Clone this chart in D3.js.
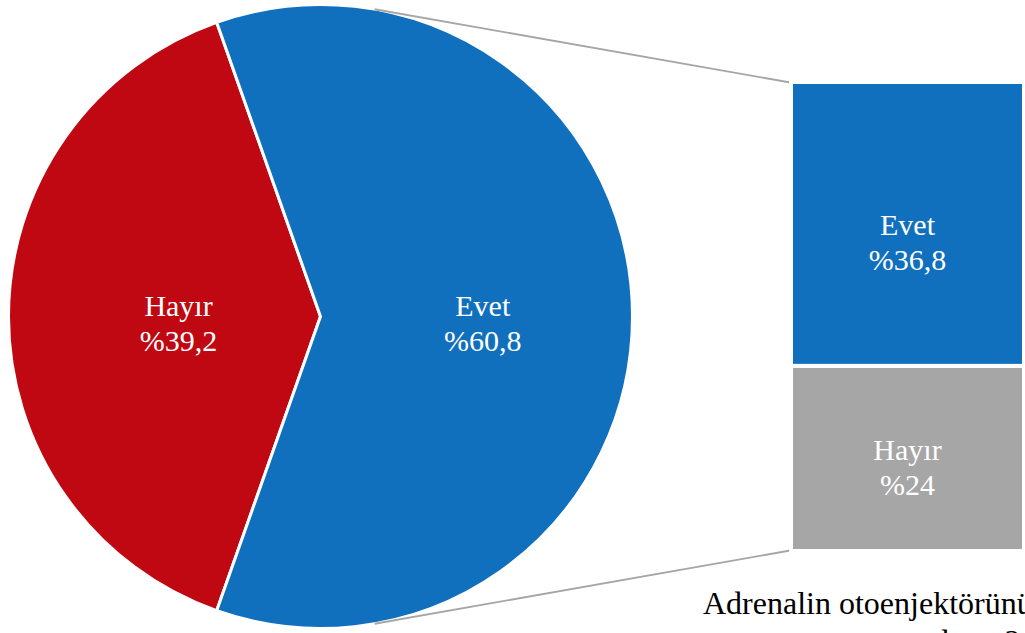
<!DOCTYPE html>
<html lang="tr">
<head>
<meta charset="utf-8">
<script src="https://cdn.jsdelivr.net/npm/d3@7"></script>
<style>
  html, body { margin: 0; padding: 0; background: #fff; overflow: hidden; }
  svg { display: block; }
  text { font-family: "Liberation Serif", "Times New Roman", serif; }
</style>
</head>
<body>
<svg id="chart" width="1025" height="633"></svg>
<script>
// Pie: main answer split; the "Evet" slice is broken down in the side bar
const pieLabels = ["Hayır", "Evet"];
const pieValues = [39.2, 60.8];
const pieColors = ["#C00812", "#1170BD"];

// Bar: breakdown of the pie's "Evet" share
const barLabels = ["Hayır", "Evet"];          // stacked bottom -> top
const barValues = [24, 36.8];
const barColors = ["#A6A6A6", "#1170BD"];

const captionLines = ["Adrenalin otoenjektörünüz", "yanında mı?"];

const fmt = v => "%" + String(v).replace(".", ",");

const svg = d3.select("#chart");
const labelSize = 30;

// ---- pie ----
const cx = 320.5, cy = 316.5, R = 312;
const total = d3.sum(pieValues);
const firstSpan = 2 * Math.PI * pieValues[0] / total;
// first slice centred on the left side (9 o'clock)
const pie = d3.pie().sort(null)
  .startAngle(1.5 * Math.PI - firstSpan / 2)
  .endAngle(1.5 * Math.PI - firstSpan / 2 + 2 * Math.PI);
const arcs = pie(pieValues);
const arc = d3.arc().innerRadius(0).outerRadius(R);

const gPie = svg.append("g").attr("transform", `translate(${cx},${cy})`);
gPie.selectAll("path.slice").data(arcs).join("path")
  .attr("class", "slice")
  .attr("d", arc)
  .attr("fill", (d, i) => pieColors[i])
  .attr("stroke", "#fff")
  .attr("stroke-width", 3)
  .attr("stroke-linejoin", "miter");

function twoLine(sel, top, bottom, shift) {
  sel.append("tspan").attr("x", 0).attr("y", -6 + shift).text(top);
  sel.append("tspan").attr("x", 0).attr("y", 29 + shift).text(bottom);
}

const labelFrac = [0.455, 0.52];
gPie.selectAll("text.pl").data(arcs).join("text")
  .attr("class", "pl")
  .attr("transform", (d, i) => {
    const r = R * labelFrac[i];
    const la = d3.arc().innerRadius(r).outerRadius(r);
    const [x, y] = la.centroid(d);
    return `translate(${x},${y})`;
  })
  .attr("text-anchor", "middle")
  .attr("fill", "#fff")
  .attr("font-size", labelSize)
  .each(function (d, i) {
    twoLine(d3.select(this), pieLabels[i], fmt(pieValues[i]), 5);
  });

// ---- stacked bar ----
const barX0 = 791, barX1 = 1024;
const y = d3.scaleLinear().domain([0, d3.sum(barValues)]).range([551, 82]);
let acc = 0;
const segs = barValues.map((v, i) => {
  const s = { i, v, y0: acc, y1: acc + v };
  acc += v;
  return s;
});

// connector lines, tangent from the bar's outer corners to the pie circle
function tangentPoint(px, py, upper) {
  const dx = px - cx, dy = py - cy;
  const d = Math.hypot(dx, dy);
  const base = Math.atan2(dy, dx);
  const off = Math.acos(R / d);
  const a = upper ? base - off : base + off;
  return [cx + R * Math.cos(a), cy + R * Math.sin(a)];
}
const topCorner = [barX0 + 2, y(d3.sum(barValues)) + 1];
const botCorner = [barX0 + 2, y(0) - 1];
const lines = [
  [tangentPoint(topCorner[0], topCorner[1], true), topCorner],
  [tangentPoint(botCorner[0], botCorner[1], false), botCorner]
];
svg.selectAll("line.conn").data(lines).join("line")
  .attr("class", "conn")
  .attr("x1", d => d[0][0]).attr("y1", d => d[0][1])
  .attr("x2", d => d[1][0]).attr("y2", d => d[1][1])
  .attr("stroke", "#A6A6A6")
  .attr("stroke-width", 1.8);

svg.selectAll("rect.seg").data(segs).join("rect")
  .attr("class", "seg")
  .attr("x", barX0)
  .attr("width", barX1 - barX0)
  .attr("y", d => y(d.y1))
  .attr("height", d => y(d.y0) - y(d.y1))
  .attr("fill", d => barColors[d.i])
  .attr("stroke", "#fff")
  .attr("stroke-width", 4);

const barShift = [8, 17];
svg.selectAll("text.bl").data(segs).join("text")
  .attr("class", "bl")
  .attr("transform", d => `translate(${(barX0 + barX1) / 2},${(y(d.y0) + y(d.y1)) / 2})`)
  .attr("text-anchor", "middle")
  .attr("fill", "#fff")
  .attr("font-size", labelSize)
  .each(function (d) {
    twoLine(d3.select(this), barLabels[d.i], fmt(d.v), barShift[d.i]);
  });

// ---- caption ----
svg.append("text")
  .attr("x", 703).attr("y", 614)
  .attr("font-size", 32)
  .attr("fill", "#000")
  .text(captionLines[0]);
svg.append("text")
  .attr("x", 862).attr("y", 652)
  .attr("font-size", 32)
  .attr("fill", "#000")
  .text(captionLines[1]);
</script>
</body>
</html>
